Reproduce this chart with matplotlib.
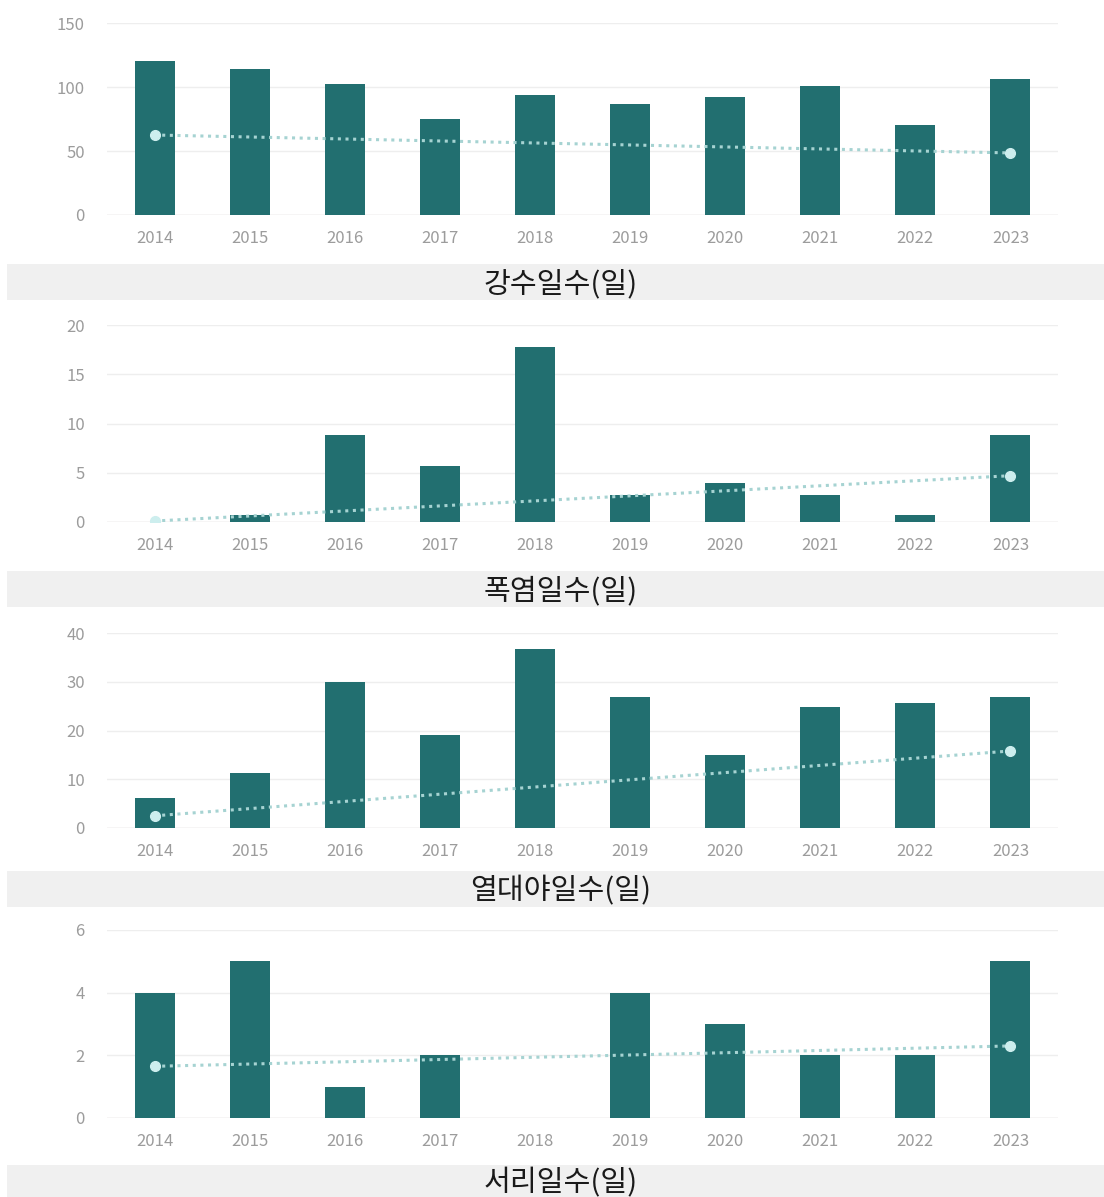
import matplotlib
matplotlib.use('Agg')
import matplotlib.pyplot as plt
from matplotlib.patches import Rectangle
import numpy as np

plt.rcParams['font.family'] = ['Noto Sans CJK KR', 'DejaVu Sans']

# Data
years = ['2014', '2015', '2016', '2017', '2018', '2019', '2020', '2021', '2022', '2023']

rain_days = [120, 114, 102, 75, 94, 87, 92, 101, 70, 106]
heat_days = [0, 0.7, 8.8, 5.7, 17.8, 2.7, 4.0, 2.7, 0.7, 8.8]
tropical_nights = [6.1, 11.2, 30, 19, 36.7, 26.9, 15, 24.9, 25.6, 26.9]
frost_days = [4, 5, 1, 2, 0, 4, 3, 2, 2, 5]

# trend line values at 2014 and 2023
rain_trend = [62.5, 48.5]
heat_trend = [0.1, 4.7]
tropical_trend = [2.5, 15.8]
frost_trend = [1.65, 2.3]

titles = ['강수일수(일)', '폭염일수(일)', '열대야일수(일)', '서리일수(일)']
yticks = [[0, 50, 100, 150], [0, 5, 10, 15, 20], [0, 10, 20, 30, 40], [0, 2, 4, 6]]

W, H = 1104, 1197
fig = plt.figure(figsize=(W / 100, H / 100), dpi=100)

# (top px, bottom px) of each plotting area, and caption bar (top, bottom)
axes_px = [(23, 215), (325, 522), (633, 828), (930, 1118)]
caption_px = [(264, 300), (571, 607), (871, 907), (1165, 1197)]

bar_color = '#226f70'
trend_color = '#a6d3d2'
tick_color = '#9c9c9c'

series = [rain_days, heat_days, tropical_nights, frost_days]
trends = [rain_trend, heat_trend, tropical_trend, frost_trend]

left_px, right_px = 107, 1058
x = np.arange(len(years))

for i in range(4):
    top, bottom = axes_px[i]
    ax = fig.add_axes([left_px / W, 1 - bottom / H, (right_px - left_px) / W, (bottom - top) / H])
    ax.bar(x, series[i], width=0.42, color=bar_color, zorder=2)
    ax.plot([x[0], x[-1]], trends[i], linestyle=(0, (1, 1.5)), linewidth=2.2,
            color=trend_color, zorder=3)
    ax.plot([x[0], x[-1]], trends[i], linestyle='none', marker='o', markersize=7,
            color='#cdeeee', zorder=4)
    ax.set_xlim(-0.5, 9.5)
    ax.set_ylim(0, yticks[i][-1])
    ax.set_yticks(yticks[i])
    ax.set_xticks(x)
    ax.set_xticklabels(years)
    ax.grid(axis='y', color='#eeeeee', linewidth=1, zorder=0)
    ax.set_axisbelow(True)
    for s in ax.spines.values():
        s.set_visible(False)
    ax.tick_params(axis='both', length=0, labelsize=12, labelcolor=tick_color)
    ax.tick_params(axis='x', pad=11)
    ax.tick_params(axis='y', pad=16)
    ax.axhline(0, color='#e6e0e0', linewidth=1, zorder=1)

    # caption bar
    ct, cb = caption_px[i]
    fig.patches.append(Rectangle((7 / W, 1 - cb / H), 1 - 7 / W, (cb - ct) / H,
                                 transform=fig.transFigure, facecolor='#f0f0f0',
                                 edgecolor='none', zorder=0))
    fig.text(561 / W, 1 - (ct + cb) / 2 / H - 0.002, titles[i], ha='center', va='center',
             fontsize=21, color='#1a1a1a')

fig.savefig('out.png', dpi=100)
